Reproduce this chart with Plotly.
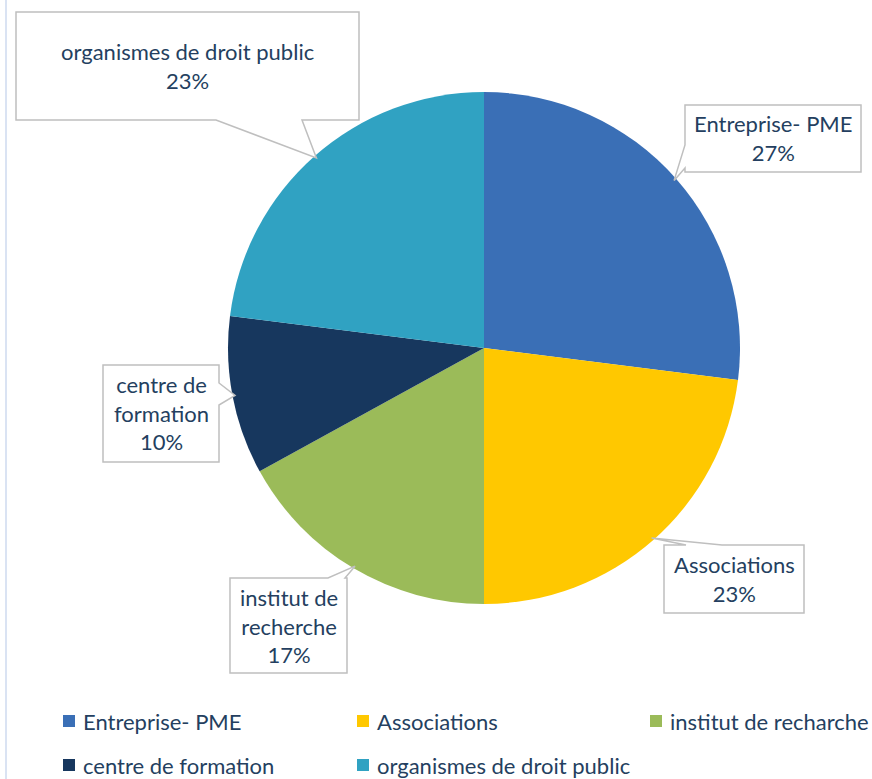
import math
import plotly.graph_objects as go

# data
labels = ["Entreprise- PME", "Associations", "institut de recharche",
          "centre de formation", "organismes de droit public"]
values = [27, 23, 17, 10, 23]
callout_names = ["Entreprise- PME", "Associations", "institut de<br>recherche",
                 "centre de<br>formation", "organismes de droit public"]
colors = ["#3A6FB6", "#FFC800", "#9BBB59", "#17375E", "#30A2C2"]

W, H = 872, 779
cx, cy, R = 484, 348, 256          # pie centre / radius in pixels
TXT = "#243F60"
FONT = "Lato"
FS = 22


def px(x):
    return x / W


def py(y):
    return 1 - y / H


# callout boxes (x0, y0, x1, y1), edge that carries the pointer, pointer base
boxes = [
    ((685, 105, 861, 172), "left", ((685, 145), (685, 168))),
    ((664, 545, 804, 613), "top", ((686, 545), (722, 545))),
    ((230, 578, 347, 673), "top", ((328, 578), (345, 578))),
    ((103, 365, 219, 462), "right", ((219, 383), (219, 405))),
    ((16, 12, 359, 120), "bottom", ((216, 120), (302, 120))),
]

fig = go.Figure(go.Pie(
    labels=labels, values=values, sort=False, direction="clockwise",
    marker=dict(colors=colors, line=dict(width=0)),
    textinfo="none", hoverinfo="label+percent", showlegend=False,
    domain=dict(x=[px(cx - R), px(cx + R)], y=[py(cy + R), py(cy - R)]),
))

shapes = [dict(type="line", xref="paper", yref="paper", x0=px(6), x1=px(6),
               y0=0, y1=1, line=dict(color="#DAE3F3", width=2))]
annotations = []

total = sum(values)
cum = 0
for i, v in enumerate(values):
    mid = (cum + v / 2) / total
    cum += v
    th = 2 * math.pi * mid
    tip = (cx + R * 0.99 * math.sin(th), cy - R * 0.99 * math.cos(th))
    (x0, y0, x1, y1), edge, base = boxes[i]
    if edge == "top":
        b = sorted(base)
        pts = [(x0, y0), b[0], tip, b[1], (x1, y0), (x1, y1), (x0, y1)]
    elif edge == "right":
        b = sorted(base, key=lambda p: p[1])
        pts = [(x0, y0), (x1, y0), b[0], tip, b[1], (x1, y1), (x0, y1)]
    elif edge == "bottom":
        b = sorted(base, reverse=True)
        pts = [(x0, y0), (x1, y0), (x1, y1), b[0], tip, b[1], (x0, y1)]
    else:
        b = sorted(base, key=lambda p: -p[1])
        pts = [(x0, y0), (x1, y0), (x1, y1), (x0, y1), b[0], tip, b[1]]
    path = "M " + " L ".join(f"{px(x):.5f},{py(y):.5f}" for x, y in pts) + " Z"
    shapes.append(dict(type="path", xref="paper", yref="paper", path=path,
                       fillcolor="white", line=dict(color="#BFBFBF", width=1.5)))
    annotations.append(dict(
        xref="paper", yref="paper", x=px((x0 + x1) / 2), y=py((y0 + y1) / 2),
        xanchor="center", yanchor="middle",
        text=f"{callout_names[i]}<br>{v}%", showarrow=False, align="center",
        font=dict(family=FONT, size=FS, color=TXT)))

# legend drawn by hand to keep Excel's spacing
leg_x = [63, 357, 650, 63, 357]
leg_y = [721, 721, 721, 765, 765]
for lab, col, lx, ly in zip(labels, colors, leg_x, leg_y):
    shapes.append(dict(type="rect", xref="paper", yref="paper",
                       x0=px(lx), x1=px(lx + 12), y0=py(ly + 6), y1=py(ly - 6),
                       fillcolor=col, line=dict(width=0)))
    annotations.append(dict(xref="paper", yref="paper", x=px(lx + 18), y=py(ly),
                            xanchor="left", yanchor="middle", text=lab,
                            showarrow=False,
                            font=dict(family=FONT, size=FS, color=TXT)))

fig.update_layout(
    width=W, height=H, margin=dict(l=0, r=0, t=0, b=0),
    paper_bgcolor="white", plot_bgcolor="white",
    shapes=shapes, annotations=annotations,
)

fig.write_html("out.html", config={"displayModeBar": False},
               post_script="document.body.style.margin='0';document.body.style.overflow='hidden';")
